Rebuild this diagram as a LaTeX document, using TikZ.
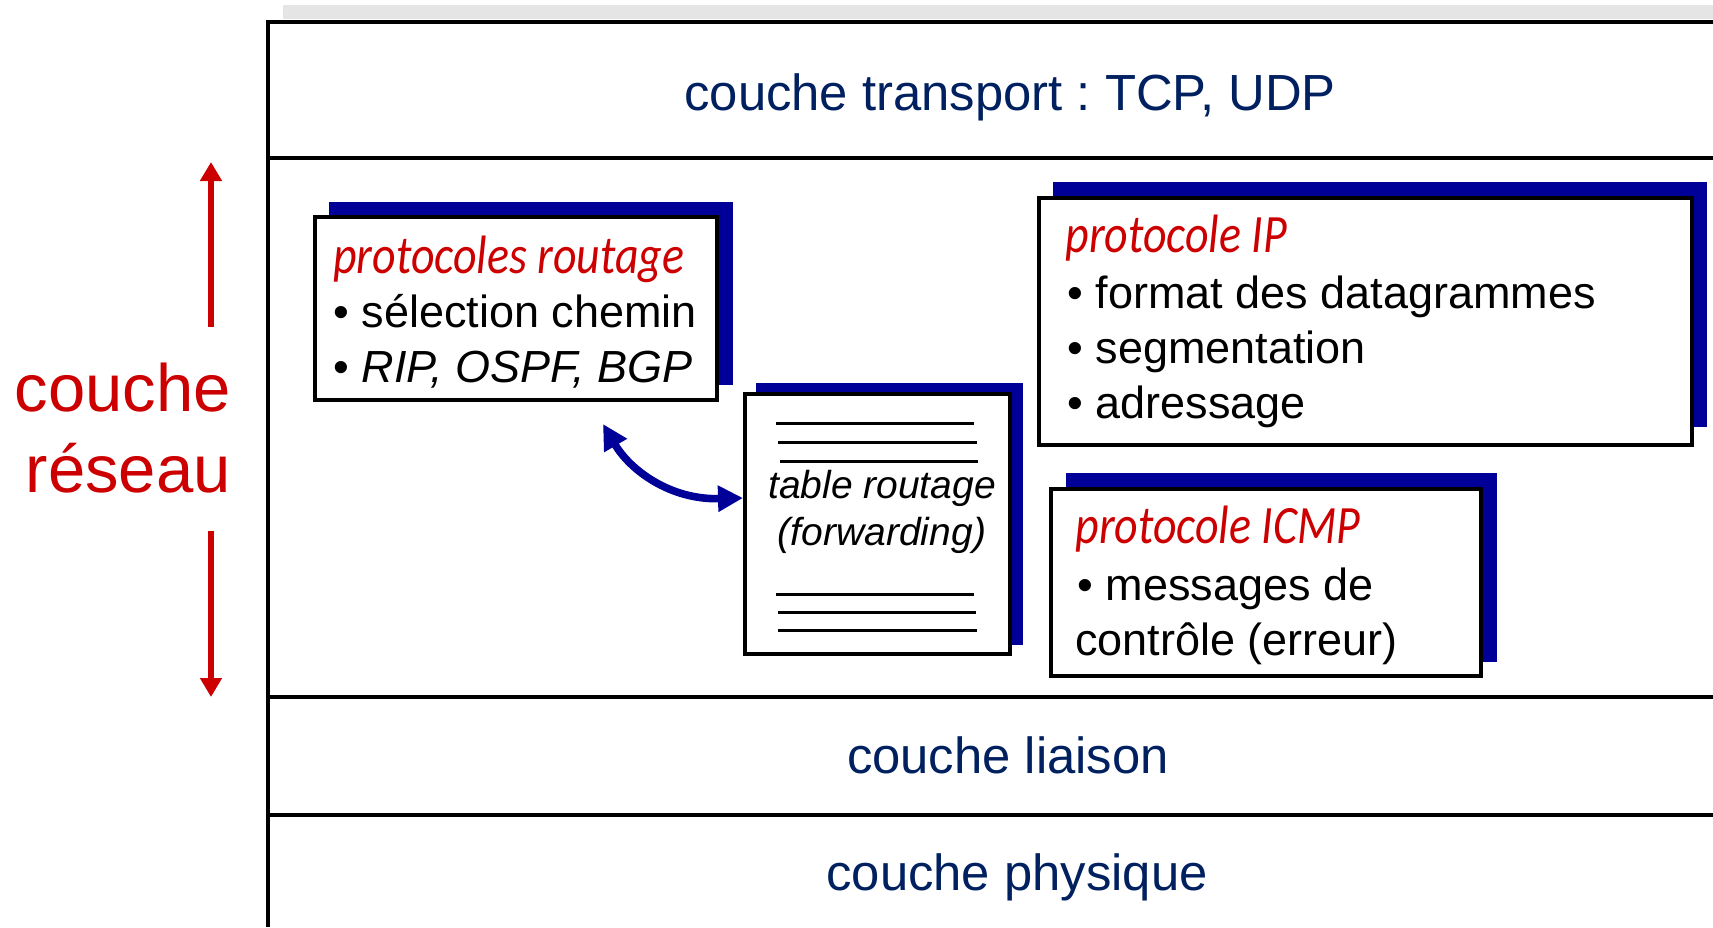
\documentclass[tikz,border=0pt]{standalone}
\usepackage{fontspec}
\setmainfont{Liberation Sans}
\newfontfamily\headfont[FakeStretch=0.85]{Carlito}
\usetikzlibrary{arrows.meta}
\definecolor{navy}{RGB}{0,32,96}
\definecolor{redt}{RGB}{204,0,0}
\definecolor{shadowblue}{RGB}{0,0,153}
\definecolor{graybar}{RGB}{229,229,229}
\frenchspacing
\begin{document}
\begin{tikzpicture}[x=0.5pt,y=-0.5pt,
  layerline/.style={line width=2pt},
  layertext/.style={text=navy, font=\fontsize{25.4}{30}\selectfont, anchor=base, inner sep=0},
  protobox/.style={draw=black, line width=2pt, fill=white, inner sep=0},
  shadowrect/.style={fill=shadowblue},
  heading/.style={text=redt, font=\headfont\itshape\fontsize{27}{32}\selectfont, anchor=base west, inner sep=0},
  item/.style={font=\fontsize{22.5}{27}\selectfont, anchor=base west, inner sep=0},
  tabletext/.style={font=\itshape\fontsize{19.5}{23}\selectfont, anchor=base, inner sep=0},
  tableline/.style={line width=1.5pt},
  sidelabel/.style={text=redt, font=\fontsize{33.5}{38}\selectfont, anchor=base east, inner sep=0},
  redarrow/.style={draw=redt, line width=3pt, -{Triangle[length=9.5pt,width=10.5pt]}},
  bluearrow/.style={draw=shadowblue, line width=3.8pt, {Triangle[length=12.5pt,width=12.5pt]}-{Triangle[length=12.5pt,width=12.5pt]}}
]
\useasboundingbox (0,0) rectangle (1713,927);
% top gray bar
\fill[graybar] (283,5) rectangle (1713,19);
% layer frame
\draw[layerline] (1713,22) -- (268,22) -- (268,927);
\draw[layerline] (268,158) -- (1713,158);
\draw[layerline] (268,697) -- (1713,697);
\draw[layerline] (268,815) -- (1713,815);
% layer labels
\node[layertext] (transport) at (1010,110) {couche transport : TCP, UDP};
\node[layertext] (liaison) at (1008,773) {couche liaison};
\node[layertext] (physique) at (1017,890) {couche physique};
% side label
\node[sidelabel] (couche) at (231,411) {couche};
\node[sidelabel] (reseau) at (231,492) {réseau};
\coordinate (upfrom) at (211,327);
\coordinate (upto) at (211,162);
\coordinate (downfrom) at (211,531);
\coordinate (downto) at (211,697);
\draw[redarrow] (upfrom) -- (upto);
\draw[redarrow] (downfrom) -- (downto);
% shadows
\fill[shadowrect] (329,202) rectangle (733,385);
\fill[shadowrect] (756,383) rectangle (1023,645);
\fill[shadowrect] (1053,182) rectangle (1707,427);
\fill[shadowrect] (1066,473) rectangle (1497,662);
% boxes
\node[protobox, minimum width=201pt, minimum height=91.5pt] (routage) at (516,308.5) {};
\node[protobox, minimum width=132.5pt, minimum height=130pt] (table) at (877.5,524) {};
\node[protobox, minimum width=326.5pt, minimum height=123.5pt] (ip) at (1365.5,321.5) {};
\node[protobox, minimum width=215pt, minimum height=93.5pt] (icmp) at (1266,582.5) {};
% box 1 text
\node[heading] (h1) at (333,273) {protocoles routage};
\node[item] (r1) at (333,327) {• sélection chemin};
\node[item] (r2) at (333,382) {• \textit{RIP, OSPF, BGP}};
% table text and lines
\node[tabletext] (t1) at (882,498) {table routage};
\node[tabletext] (t2) at (882,545) {(forwarding)};
\draw[tableline] (776,423) -- (974,423);
\draw[tableline] (778,442) -- (977,442);
\draw[tableline] (780,461) -- (978,461);
\draw[tableline] (776,594) -- (974,594);
\draw[tableline] (778,612) -- (976,612);
\draw[tableline] (778,630) -- (977,630);
% IP text
\node[heading] (h3) at (1065,252) {protocole IP};
\node[item] (i1) at (1067,308) {• format des datagrammes};
\node[item] (i2) at (1067,363) {• segmentation};
\node[item] (i3) at (1067,418) {• adressage};
% ICMP text
\node[heading] (h4) at (1075,543) {protocole ICMP};
\node[item] (c1) at (1077,600) {• messages de};
\node[item] (c2) at (1075,655) {contrôle (erreur)};
% curved arrow
\coordinate (arrA) at (603,424);
\coordinate (arrB) at (743,498);
\draw[bluearrow] (arrA) .. controls (630,470) and (670,500) .. (arrB);
\end{tikzpicture}
\end{document}
